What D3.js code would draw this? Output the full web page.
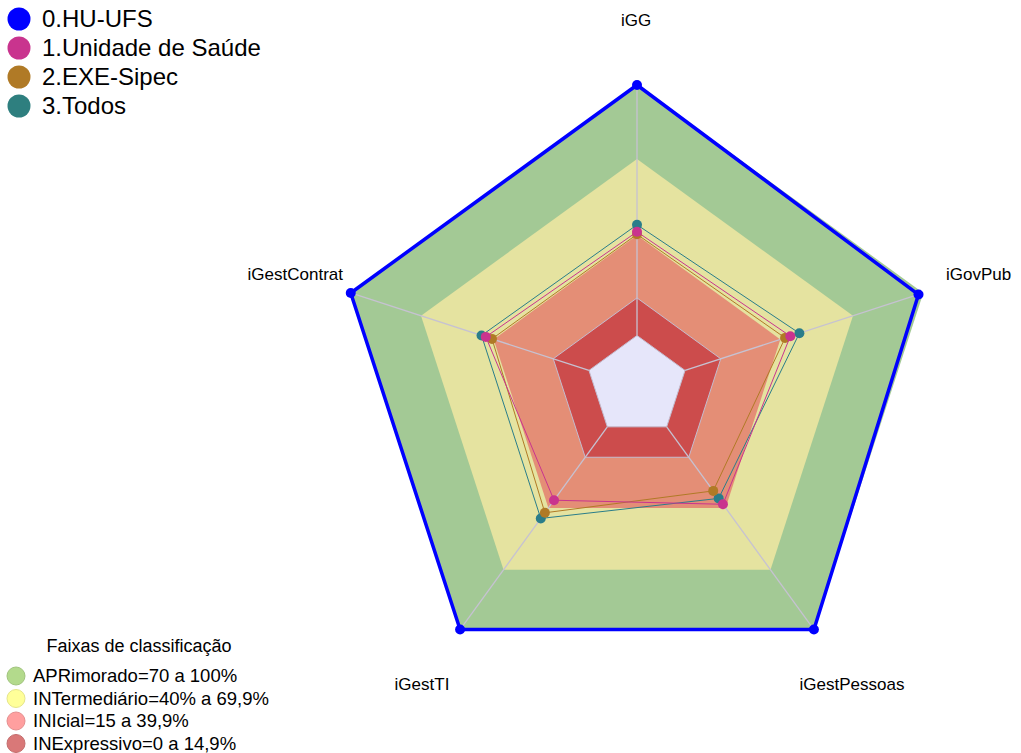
<!DOCTYPE html>
<html>
<head>
<meta charset="utf-8">
<script src="https://cdn.jsdelivr.net/npm/d3@7"></script>
<style>
  body { margin: 0; background: #fff; }
  text { font-family: "Liberation Sans", Arial, sans-serif; fill: #000; }
</style>
</head>
<body>
<svg id="chart" width="1021" height="753"></svg>
<script>
// axes, clockwise from the top
const categories = ["iGG", "iGovPub", "iGestPessoas", "iGestTI", "iGestContrat"];

// series values (%)
const huUfs        = [100, 98, 100, 100, 100];
const unidadeSaude = [41.4, 44.2, 38.2, 36.2, 43.3];
const exeSipec     = [40.4, 42.0, 31.6, 42.4, 40.7];
const todos        = [44.2, 48.0, 35.3, 45.2, 45.1];

const seriesNames = ["0.HU-UFS", "1.Unidade de Saúde", "2.EXE-Sipec", "3.Todos"];

// classification bands (upper limit of each band)
const bandNames = ["APRimorado=70 a 100%", "INTermediário=40% a 69,9%", "INIcial=15 a 39,9%", "INExpressivo=0 a 14,9%"];
const bandLimits = [100, 70.5, 40, 15, 0];

const svg = d3.select("#chart");
const cx = 637, cy = 386;
const R = 301, rHole = 50.5;

const r = d3.scaleLinear().domain([0, 100]).range([rHole, R]);
const angle = d3.scalePoint().domain(d3.range(categories.length)).range([0, 2 * Math.PI * 4 / 5]);

const g = svg.append("g").attr("transform", `translate(${cx},${cy})`);

const radial = d3.lineRadial()
  .angle((d, i) => angle(i))
  .radius(d => r(d))
  .curve(d3.curveLinearClosed);

const pt = (v, i) => {
  const a = angle(i);
  return [Math.sin(a) * r(v), -Math.cos(a) * r(v)];
};

// bands
const bandFill = ["#a3c995", "#e5e3a0", "#e48e76", "#cc4c4c", "#e6e6fa"];
bandLimits.forEach((lim, k) => {
  g.append("path")
    .attr("d", radial(categories.map(() => lim)))
    .attr("fill", bandFill[k])
    .attr("stroke", k >= 3 ? "#c4bccf" : "none")
    .attr("stroke-width", 1);
});

// spokes
categories.forEach((c, i) => {
  const [x0, y0] = pt(0, i);
  const [x1, y1] = pt(100, i);
  g.append("line")
    .attr("x1", x0).attr("y1", y0).attr("x2", x1).attr("y2", y1)
    .attr("stroke", "#c6c2d2").attr("stroke-width", 1.3);
});

// series
const series = [
  {values: todos, color: "#2a7d8a", width: 1},
  {values: exeSipec, color: "#b07a26", width: 1},
  {values: unidadeSaude, color: "#c9348e", width: 1},
  {values: huUfs, color: "#0000ff", width: 3.5}
];
series.forEach(s => {
  g.append("path")
    .attr("d", radial(s.values))
    .attr("fill", "none")
    .attr("stroke", s.color)
    .attr("stroke-width", s.width)
    .attr("stroke-linejoin", "round");
  g.selectAll(null)
    .data(s.values)
    .enter().append("circle")
    .attr("cx", (d, i) => pt(d, i)[0])
    .attr("cy", (d, i) => pt(d, i)[1])
    .attr("r", 5)
    .attr("fill", s.color);
});

// axis labels
const labelPos = [
  {x: 636, y: 26, anchor: "middle"},
  {x: 946, y: 280, anchor: "start"},
  {x: 852, y: 690, anchor: "middle"},
  {x: 422, y: 690, anchor: "middle"},
  {x: 343, y: 280, anchor: "end"}
];
categories.forEach((c, i) => {
  svg.append("text")
    .attr("x", labelPos[i].x).attr("y", labelPos[i].y)
    .attr("text-anchor", labelPos[i].anchor)
    .style("font-size", "17px")
    .text(c);
});

// series legend
const legColors = ["#0000ff", "#c9348e", "#b07a26", "#2e7f7f"];
const leg = svg.append("g");
seriesNames.forEach((n, i) => {
  leg.append("circle").attr("cx", 19).attr("cy", 19 + i * 29).attr("r", 11.5).attr("fill", legColors[i]);
  leg.append("text").attr("x", 42).attr("y", 27 + i * 29).style("font-size", "24px").text(n);
});

// band legend
const bandLegColors = ["#b3da8c", "#ffff99", "#ff9f9f", "#d97878"];
svg.append("text").attr("x", 139).attr("y", 652).attr("text-anchor", "middle")
  .style("font-size", "18px").text("Faixas de classificação");
bandNames.forEach((n, i) => {
  svg.append("circle").attr("cx", 16).attr("cy", 676 + i * 22.5).attr("r", 9)
    .attr("fill", bandLegColors[i]).attr("stroke", d3.color(bandLegColors[i]).darker(0.3)).attr("stroke-width", 1);
  svg.append("text").attr("x", 33).attr("y", 682 + i * 22.5).style("font-size", "18.5px").text(n);
});
</script>
</body>
</html>
